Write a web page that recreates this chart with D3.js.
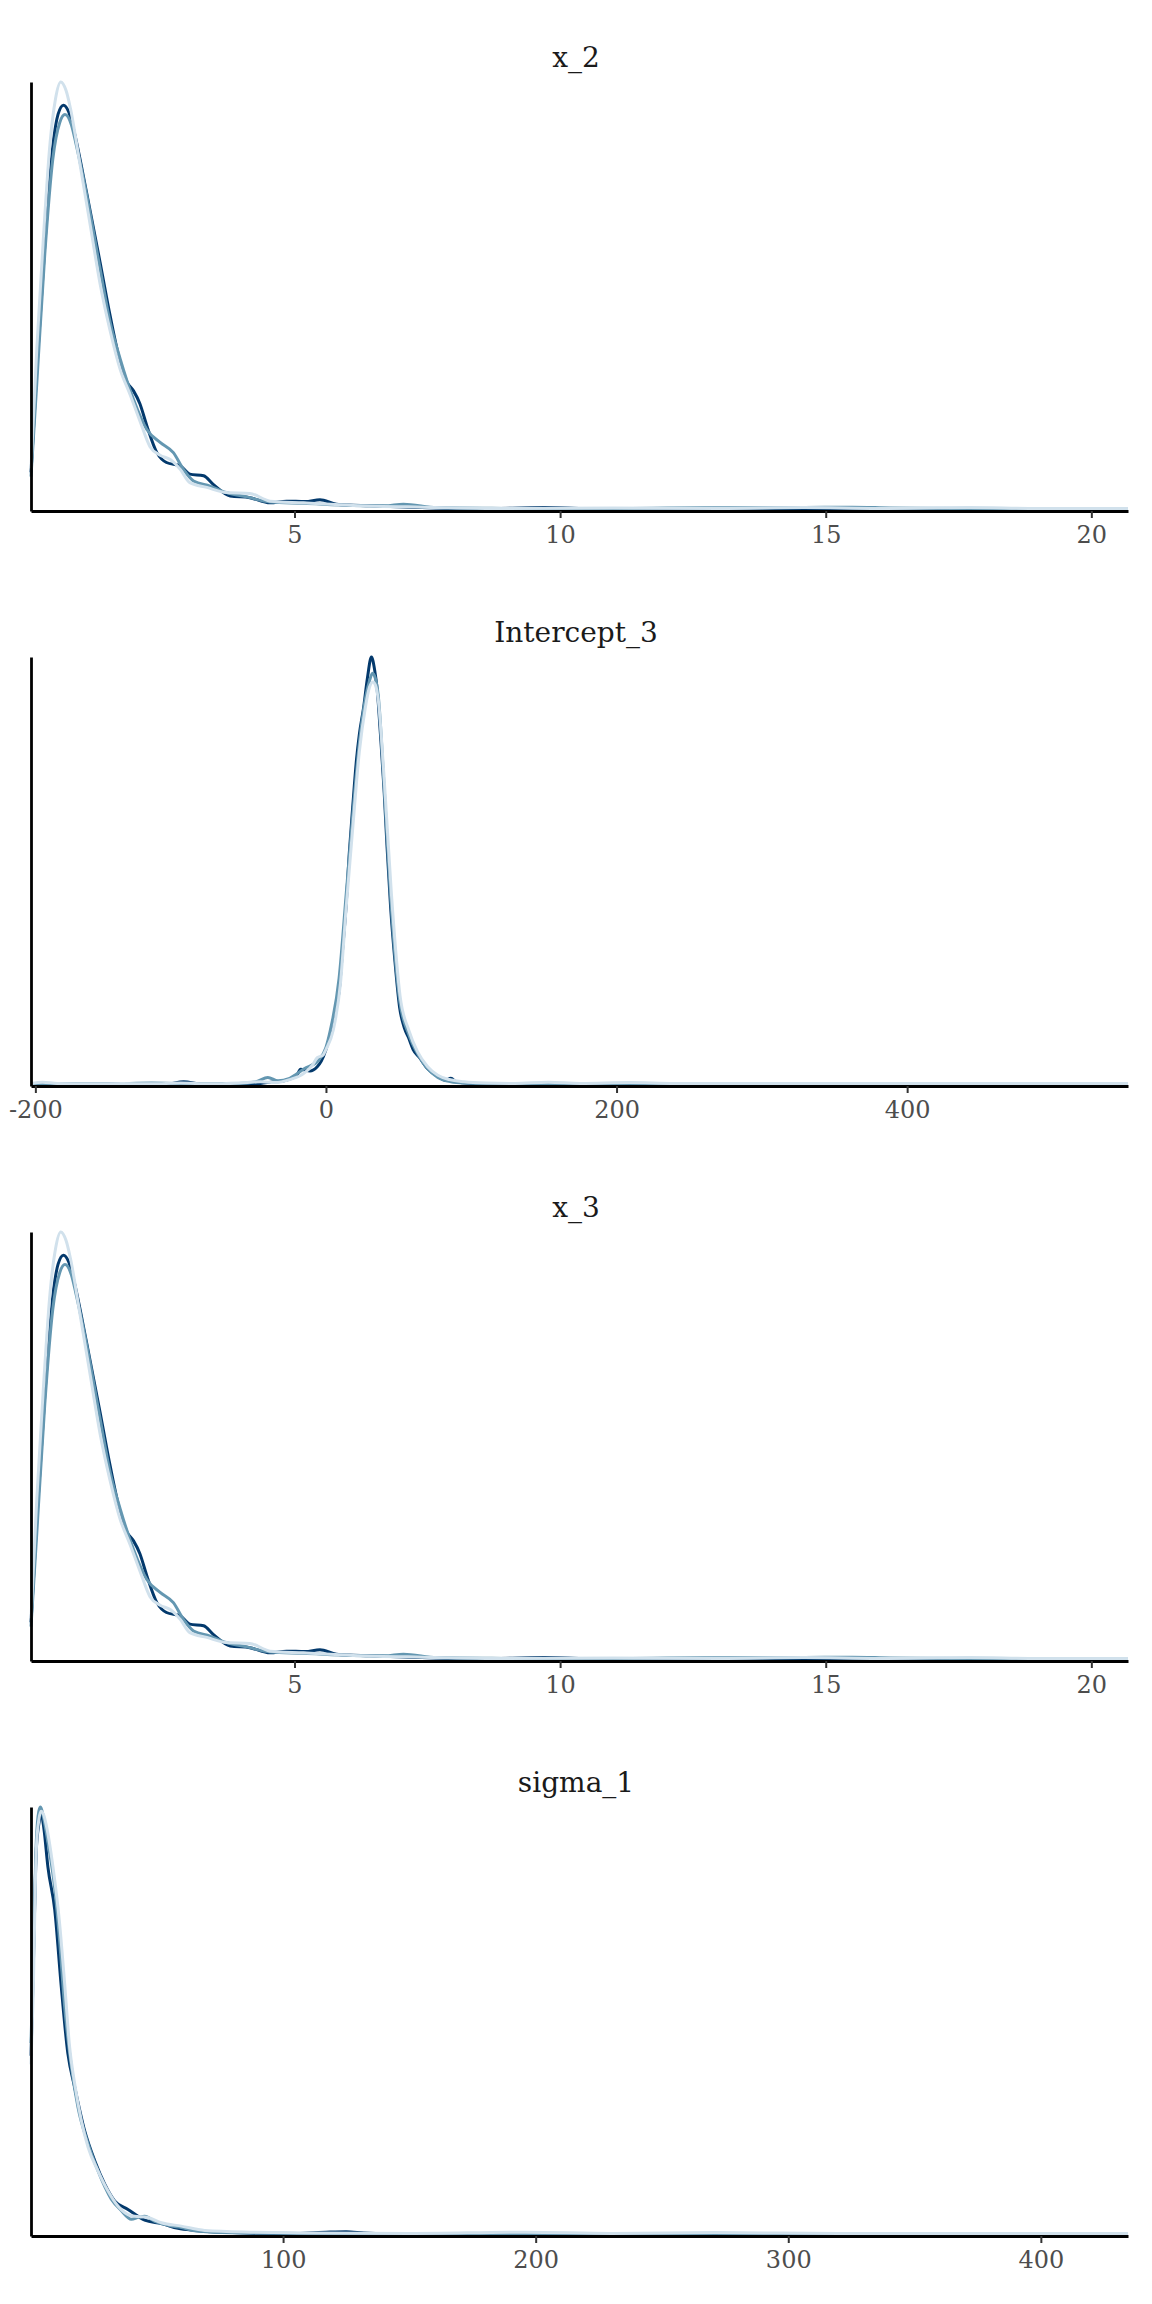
<!DOCTYPE html>
<html>
<head>
<meta charset="utf-8">
<script src="https://cdn.jsdelivr.net/npm/d3@7"></script>
<style>
  body { margin: 0; background: #fff; }
</style>
</head>
<body>
<div id="my_dataviz"></div>
<script>
// Density estimates: [value, relative density]
// Three chains per parameter, light / mid / dark

var x2Chain1 = [[0.04,0.10],[0.15,0.38],[0.27,0.63],[0.40,0.86],[0.50,0.96],[0.60,1.0],[0.70,0.98],[0.78,0.94],[0.96,0.81],[1.15,0.67],[1.34,0.53],[1.53,0.42],[1.72,0.33],[1.91,0.27],[2.09,0.21],[2.28,0.15],[2.47,0.13],[2.66,0.12],[2.85,0.097],[3.03,0.066],[3.35,0.055],[3.72,0.043],[4.16,0.041],[4.54,0.023],[5.17,0.019],[6.1,0.013],[7.4,0.009],[9,0.006],[11,0.007],[13,0.006],[14.6,0.008],[16,0.006],[17.7,0.008],[19,0.006],[20.69,0.006]];
var x2Chain2 = [[0.04,0.08],[0.15,0.30],[0.30,0.60],[0.45,0.82],[0.58,0.905],[0.68,0.924],[0.80,0.90],[0.88,0.86],[1.09,0.736],[1.34,0.565],[1.53,0.44],[1.72,0.354],[1.97,0.26],[2.22,0.19],[2.47,0.16],[2.72,0.136],[2.91,0.097],[3.1,0.07],[3.41,0.058],[3.72,0.043],[4.1,0.033],[4.54,0.021],[5.17,0.018],[6.1,0.013],[6.7,0.012],[7.05,0.016],[7.68,0.008],[9,0.006],[10.5,0.005],[12,0.007],[14.6,0.008],[15.5,0.009],[16.2,0.007],[18,0.005],[20.69,0.006]];
var x2Chain3 = [[0.04,0.09],[0.15,0.33],[0.30,0.62],[0.45,0.85],[0.55,0.925],[0.65,0.946],[0.75,0.93],[0.84,0.89],[1.09,0.74],[1.34,0.58],[1.53,0.455],[1.72,0.347],[1.85,0.30],[1.97,0.28],[2.09,0.25],[2.22,0.199],[2.41,0.136],[2.59,0.113],[2.85,0.105],[3.03,0.086],[3.29,0.082],[3.47,0.062],[3.79,0.035],[4.16,0.031],[4.54,0.019],[4.85,0.023],[5.2,0.022],[5.48,0.026],[5.79,0.016],[6.42,0.012],[7.4,0.008],[8.5,0.005],[9.7,0.008],[11,0.004],[12.5,0.005],[14,0.004],[15.5,0.006],[17,0.004],[18.5,0.005],[20.69,0.004]];

var interceptChain1 = [[-203,0.006],[-195,0.009],[-185,0.006],[-160,0.005],[-140,0.006],[-120,0.005],[-100,0.007],[-80,0.005],[-60,0.007],[-45,0.01],[-35,0.008],[-25,0.015],[-15,0.03],[-9,0.05],[-6,0.066],[-2,0.072],[0,0.085],[5,0.13],[10,0.24],[14,0.42],[18.4,0.6],[23,0.78],[27,0.88],[30,0.93],[32.3,0.942],[34,0.935],[36,0.9],[40,0.72],[45,0.45],[51,0.21],[57,0.13],[63,0.08],[70,0.045],[77,0.025],[85,0.015],[95,0.01],[110,0.007],[130,0.006],[153,0.009],[175,0.006],[209,0.008],[240,0.006],[300,0.006],[400,0.006],[552,0.006]];
var interceptChain2 = [[-203,0.005],[-180,0.006],[-150,0.005],[-120,0.007],[-90,0.005],[-60,0.006],[-48,0.01],[-40,0.02],[-33,0.012],[-25,0.018],[-15,0.04],[-5,0.06],[0,0.09],[3,0.13],[9,0.25],[14,0.45],[18.4,0.63],[23,0.8],[27,0.9],[30,0.945],[32,0.962],[34,0.95],[36,0.91],[40,0.70],[44.5,0.44],[50.7,0.2],[57,0.12],[64,0.07],[70,0.04],[77,0.02],[86,0.01],[95,0.007],[120,0.005],[160,0.006],[200,0.005],[552,0.005]];
var interceptChain3 = [[-203,0.004],[-170,0.004],[-130,0.005],[-110,0.004],[-98,0.01],[-85,0.004],[-60,0.004],[-45,0.006],[-38,0.009],[-28,0.013],[-20,0.025],[-17.5,0.039],[-11,0.035],[-6,0.045],[-3.2,0.058],[0,0.085],[2.9,0.12],[6,0.17],[9.1,0.222],[11.5,0.32],[13.8,0.417],[16,0.54],[18.4,0.65],[21,0.76],[23,0.82],[26,0.884],[28.5,0.95],[31.3,1.0],[33.5,0.97],[35.3,0.923],[37.5,0.82],[40,0.69],[42,0.56],[44.5,0.417],[47.5,0.29],[50.7,0.183],[54,0.135],[56.8,0.113],[60,0.085],[64.4,0.066],[70,0.04],[76.8,0.023],[82,0.013],[86,0.018],[90,0.009],[100,0.006],[120,0.004],[552,0.004]];

// x_3 reads exactly the same as x_2 in the picture
var x3Chain1 = x2Chain1;
var x3Chain2 = x2Chain2;
var x3Chain3 = x2Chain3;

var sigmaChain1 = [[0.2,0.40],[1,0.55],[2.3,0.90],[3.3,0.97],[4.2,0.99],[5.3,0.98],[6.3,0.956],[8.9,0.86],[11.5,0.73],[13.5,0.59],[15.5,0.44],[17.5,0.355],[20.1,0.27],[22.8,0.207],[26.7,0.152],[30.7,0.105],[34.6,0.07],[39.9,0.047],[46.5,0.043],[51.8,0.031],[59.7,0.023],[69,0.013],[88.8,0.009],[110,0.007],[150,0.006],[196,0.009],[230,0.006],[271,0.008],[320,0.006],[380,0.006],[434.5,0.006]];
var sigmaChain2 = [[0.2,0.45],[1,0.62],[2.3,0.92],[3.3,0.99],[4,1.0],[5,0.98],[6.9,0.917],[9.6,0.81],[11.5,0.69],[13.5,0.535],[16.2,0.394],[18.8,0.30],[22.8,0.215],[26.7,0.152],[32,0.086],[36,0.059],[39.9,0.039],[43,0.044],[45.2,0.046],[49.2,0.034],[55.8,0.023],[59.7,0.02],[65,0.012],[75.6,0.008],[90,0.007],[120,0.005],[160,0.006],[250,0.005],[434.5,0.005]];
var sigmaChain3 = [[0.2,0.42],[1,0.6],[2.3,0.9],[3.3,0.96],[4.2,0.984],[5.3,0.95],[6.9,0.86],[9.6,0.76],[12.2,0.58],[14.8,0.425],[17.5,0.347],[21.4,0.246],[25.4,0.176],[29.4,0.121],[33.3,0.082],[38.6,0.062],[45.2,0.037],[51.8,0.029],[58.4,0.018],[65,0.013],[80,0.008],[100,0.005],[117,0.009],[125,0.01],[132,0.007],[150,0.004],[434.5,0.004]];

var panelTitles = ["x_2", "Intercept_3", "x_3", "sigma_1"];
var x2Ticks = [5, 10, 15, 20];
var interceptTicks = [-200, 0, 200, 400];
var x3Ticks = [5, 10, 15, 20];
var sigmaTicks = [100, 200, 300, 400];
var chainColors = ["#d1e1ec", "#6497b1", "#03396c"];

var panels = [
    {title: panelTitles[0], chains: [x2Chain1, x2Chain2, x2Chain3], ticks: x2Ticks},
    {title: panelTitles[1], chains: [interceptChain1, interceptChain2, interceptChain3], ticks: interceptTicks},
    {title: panelTitles[2], chains: [x3Chain1, x3Chain2, x3Chain3], ticks: x3Ticks},
    {title: panelTitles[3], chains: [sigmaChain1, sigmaChain2, sigmaChain3], ticks: sigmaTicks}
];

// Layout
var width = 1152, height = 2304;
var left = 31, right = 1128;
var firstTop = 82, panelHeight = 429, panelStep = 575;

var svg = d3.select("#my_dataviz")
    .append("svg")
    .attr("width", width)
    .attr("height", height);

svg.append("rect")
    .attr("width", width)
    .attr("height", height)
    .attr("fill", "#ffffff");

panels.forEach(function(p, i) {
    var top = firstTop + i * panelStep;
    var bottom = top + panelHeight;
    var all = [].concat.apply([], p.chains);

    var x = d3.scaleLinear()
        .domain(d3.extent(all, function(d) { return d[0]; }))
        .range([left, right]);
    var y = d3.scaleLinear()
        .domain([0, d3.max(all, function(d) { return d[1]; })])
        .range([bottom, top]);

    var g = svg.append("g");

    // Facet title
    g.append("text")
        .attr("x", 576)
        .attr("y", top - 15)
        .attr("text-anchor", "middle")
        .style("font-family", "'DejaVu Serif', serif")
        .style("font-size", "28px")
        .attr("fill", "#1a1a1a")
        .text(p.title);

    // Density lines, the lightest chain ends up on top
    var line = d3.line()
        .curve(d3.curveMonotoneX)
        .x(function(d) { return x(d[0]); })
        .y(function(d) { return y(d[1]); });

    for (var j = p.chains.length - 1; j >= 0; j--) {
        g.append("path")
            .datum(p.chains[j])
            .attr("fill", "none")
            .attr("stroke", chainColors[j])
            .attr("stroke-width", 3)
            .attr("stroke-linejoin", "round")
            .attr("d", line);
    }

    // X axis
    var xAxis = g.append("g")
        .attr("transform", "translate(0," + bottom + ")")
        .call(d3.axisBottom(x)
            .tickValues(p.ticks)
            .tickSize(7)
            .tickSizeOuter(0)
            .tickPadding(8)
            .tickFormat(function(d) { return String(d); }));
    xAxis.select(".domain").attr("stroke", "#000").attr("stroke-width", 2.8);
    xAxis.selectAll(".tick line").attr("stroke", "#333").attr("stroke-width", 2);
    xAxis.selectAll(".tick text")
        .style("font-family", "'DejaVu Serif', serif")
        .style("font-size", "24px")
        .attr("fill", "#4d4d4d");

    // Y axis: line only
    var yAxis = g.append("g")
        .attr("transform", "translate(" + left + ",0)")
        .call(d3.axisLeft(y).tickValues([]).tickSizeOuter(0));
    yAxis.select(".domain").attr("stroke", "#000").attr("stroke-width", 2.8);
});
</script>
</body>
</html>
